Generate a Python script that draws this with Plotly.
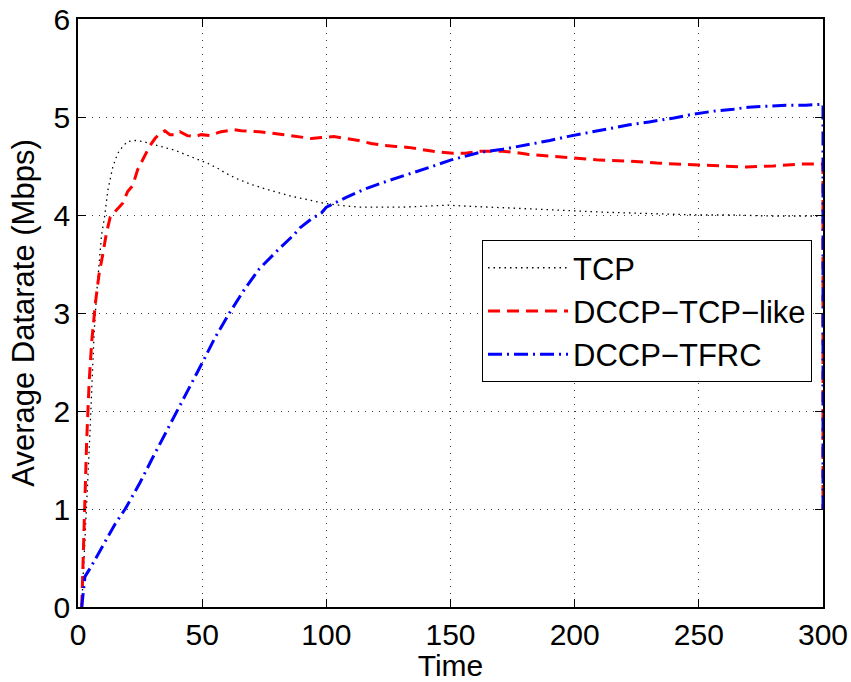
import plotly.graph_objects as go

# Average datarate over time for three transport protocols
tcp_t = [1.5, 2.5, 3.5, 4.5, 5.5, 6.5, 7.5, 8.5, 9.5, 10.7, 12, 14, 16, 18, 20, 23, 26, 29, 32, 35, 39,
         43, 47, 52, 56, 60, 64, 70, 75, 80, 86, 90, 94, 99, 105, 113, 120, 130, 140, 149, 157, 164,
         175, 184, 192, 199, 210, 223, 235, 250, 264, 278, 291, 300]
tcp_v = [0.0, 0.5, 1.0, 1.6, 2.2, 2.8, 3.2, 3.5, 3.8, 3.98, 4.25, 4.49, 4.63, 4.7, 4.75, 4.76, 4.75, 4.73, 4.71, 4.69, 4.66,
         4.62, 4.58, 4.53, 4.48, 4.42, 4.37, 4.31, 4.27, 4.23, 4.19, 4.17, 4.15, 4.12, 4.1, 4.08, 4.08, 4.08, 4.09, 4.1, 4.09, 4.08,
         4.07, 4.06, 4.05, 4.04, 4.03, 4.02, 4.01, 4.0, 4.0, 3.99, 3.99, 3.99]

dccp_tcp_t = [1.5, 2.5, 3.5, 4.5, 5.5, 7, 8.5, 10, 11.4, 13, 15.4, 18, 20, 22, 24, 26.5, 28.8, 31, 32.8, 35, 37, 39, 41,
              44, 47, 49.6, 53, 57.6, 63, 65.7, 73, 83, 91, 94, 98, 103, 108, 113, 118, 123, 128, 133, 138, 143, 151,
              156, 162, 171, 176, 181, 191, 202, 210, 222, 233, 250, 262, 269, 280, 291, 300, 300]
dccp_tcp_v = [0.0, 1.0, 1.7, 2.3, 2.7, 3.1, 3.4, 3.6, 3.81, 3.98, 4.05, 4.12, 4.24, 4.3, 4.46, 4.58, 4.7, 4.78, 4.83, 4.86, 4.82, 4.82, 4.85,
              4.81, 4.8, 4.82, 4.81, 4.85, 4.87, 4.86, 4.85, 4.82, 4.79, 4.78, 4.79, 4.8, 4.78, 4.76, 4.73, 4.71, 4.7, 4.69, 4.67, 4.65, 4.63,
              4.63, 4.65, 4.65, 4.64, 4.62, 4.6, 4.58, 4.56, 4.55, 4.53, 4.51, 4.5, 4.49, 4.5, 4.52, 4.52, 1.0]

dccp_tfrc_t = [1.5, 2.8, 5, 10, 15, 19, 25, 30, 35, 40, 45, 50, 55, 61, 67, 73, 80, 87, 89.4, 94, 98, 100, 108, 116,
               125, 134, 142, 150, 156, 162, 171, 182, 190, 197, 205, 213, 222, 230, 240, 248, 256, 264,
               270, 277, 285, 293, 300, 300]
dccp_tfrc_v = [0.0, 0.31, 0.4, 0.62, 0.85, 1.0, 1.27, 1.52, 1.76, 2.0, 2.25, 2.49, 2.74, 3.0, 3.24, 3.45, 3.63, 3.8, 3.87, 3.96, 4.02, 4.08, 4.18, 4.27,
               4.35, 4.42, 4.49, 4.56, 4.6, 4.64, 4.67, 4.72, 4.76, 4.8, 4.84, 4.88, 4.92, 4.95, 4.99, 5.03, 5.06, 5.08,
               5.1, 5.11, 5.12, 5.12, 5.13, 1.0]

x_ticks = [0, 50, 100, 150, 200, 250, 300]
y_ticks = [0, 1, 2, 3, 4, 5, 6]

FONT = "Liberation Sans, Arial, Helvetica, sans-serif"

fig = go.Figure()
fig.add_trace(go.Scatter(x=tcp_t, y=tcp_v, mode="lines", name="TCP",
                         line=dict(color="black", width=1.3, dash="1.5px,4px")))
fig.add_trace(go.Scatter(x=dccp_tcp_t, y=dccp_tcp_v, mode="lines", name="DCCP\u2212TCP\u2212like",
                         line=dict(color="#ff0000", width=3, dash="12px,7px")))
fig.add_trace(go.Scatter(x=dccp_tfrc_t, y=dccp_tfrc_v, mode="lines", name="DCCP\u2212TFRC",
                         line=dict(color="#0000ff", width=3, dash="14px,5px,2px,5px")))

axis_common = dict(
    showline=True, linecolor="black", linewidth=1.5, mirror="allticks",
    ticks="inside", ticklen=8, tickwidth=1, tickcolor="black",
    showgrid=True, gridcolor="rgba(0,0,0,0.75)", gridwidth=1, griddash="1px,6px",
    zeroline=False, automargin=False,
    tickfont=dict(family=FONT, size=30, color="black"),
)

fig.update_xaxes(range=[0, 300], tickvals=x_ticks,
                 title=dict(text="Time", font=dict(family=FONT, size=30, color="black"), standoff=0),
                 **axis_common)
fig.update_yaxes(range=[0, 6], tickvals=y_ticks,
                 title=dict(text="Average Datarate (Mbps)", font=dict(family=FONT, size=31, color="black"),
                            standoff=10),
                 **axis_common)

fig.update_layout(
    width=851, height=682,
    margin=dict(l=78, r=28, t=19, b=75),
    plot_bgcolor="white", paper_bgcolor="white",
    showlegend=True,
    legend=dict(x=0.5423, y=0.624, xanchor="left", yanchor="top",
                bgcolor="white", bordercolor="black", borderwidth=1,
                font=dict(family=FONT, size=31, color="black"),
                itemwidth=80, tracegroupgap=0),
)

fig.write_html("out.html")
